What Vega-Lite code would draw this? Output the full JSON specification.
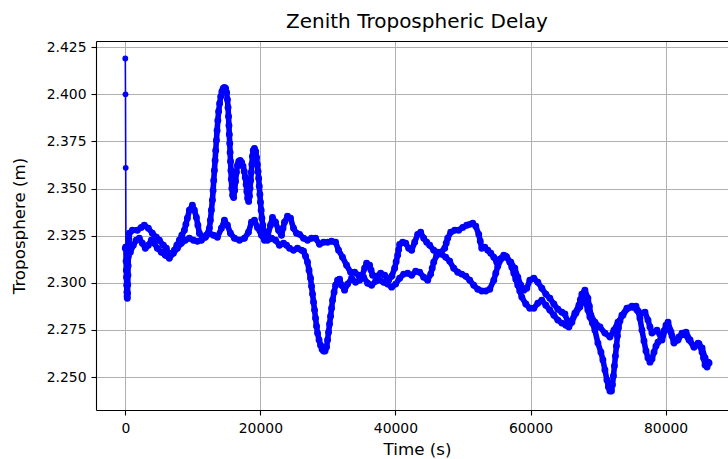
{
  "$schema": "https://vega.github.io/schema/vega-lite/v6.json",
  "usermeta": {"embedOptions": {"actions": false}},
  "autosize": {"type": "none"},
  "padding": {"left": 96, "top": 41, "right": 0, "bottom": 49},
  "width": 632,
  "height": 369,
  "background": "white",
  "title": {
    "text": "Zenith Tropospheric Delay",
    "font": "DejaVu Sans",
    "fontSize": 20,
    "fontWeight": "normal",
    "color": "#000000",
    "anchor": "middle",
    "baseline": "alphabetic",
    "offset": -8,
    "dx": 5
  },
  "config": {
    "view": {"stroke": null},
    "font": "DejaVu Sans",
    "axis": {
      "labelFont": "DejaVu Sans",
      "labelFontSize": 13.9,
      "labelColor": "#000000",
      "titleFont": "DejaVu Sans",
      "titleFontSize": 16.7,
      "titleFontWeight": "normal",
      "titleColor": "#000000",
      "domainColor": "#000000",
      "domainWidth": 1.1,
      "tickColor": "#000000",
      "tickWidth": 1.1,
      "tickSize": 5,
      "gridColor": "#b0b0b0",
      "gridWidth": 1,
      "gridOpacity": 1
    }
  },
  "datasets": {
    "rxA_convergence": [
      {"t":0,"ztd":2.419},{"t":30,"ztd":2.4},{"t":60,"ztd":2.361},{"t":90,"ztd":2.319}
    ],
    "rxA": [
      {"t":90,"ztd":2.319},{"t":120,"ztd":2.3115},{"t":150,"ztd":2.3067},{"t":180,"ztd":2.303},{"t":210,"ztd":2.2987},{"t":240,"ztd":2.295},{"t":270,"ztd":2.2929},{"t":300,"ztd":2.2918},{"t":330,"ztd":2.2945},{"t":360,"ztd":2.299},{"t":390,"ztd":2.304},{"t":420,"ztd":2.309},{"t":450,"ztd":2.314},{"t":480,"ztd":2.3185},{"t":540,"ztd":2.323},{"t":600,"ztd":2.3263},
      {"t":1050,"ztd":2.3279},{"t":1779,"ztd":2.3279},{"t":2372,"ztd":2.3294},{"t":2817,"ztd":2.3305},{"t":3410,"ztd":2.3289},{"t":4003,"ztd":2.3263},{"t":4596,"ztd":2.3242},{"t":5041,"ztd":2.3226},{"t":5634,"ztd":2.3199},{"t":6079,"ztd":2.3183},{"t":6523,"ztd":2.3146},{"t":7265,"ztd":2.3173},{"t":7635,"ztd":2.3199},{"t":8006,"ztd":2.3226},{"t":8377,"ztd":2.3252},{"t":8747,"ztd":2.3279},{"t":8970,"ztd":2.331},{"t":9192,"ztd":2.3342},{"t":9489,"ztd":2.3385},{"t":9933,"ztd":2.3411},{"t":10230,"ztd":2.3385},{"t":10526,"ztd":2.3347},{"t":10749,"ztd":2.3305},{"t":10971,"ztd":2.3263},{"t":11416,"ztd":2.3242},{"t":12009,"ztd":2.3252},
      {"t":12454,"ztd":2.3289},{"t":12602,"ztd":2.3332},{"t":12750,"ztd":2.3385},{"t":12899,"ztd":2.3438},{"t":13002,"ztd":2.349},{"t":13091,"ztd":2.3543},{"t":13195,"ztd":2.3596},{"t":13299,"ztd":2.3649},{"t":13388,"ztd":2.3702},{"t":13492,"ztd":2.3755},{"t":13595,"ztd":2.3808},{"t":13699,"ztd":2.3861},{"t":13818,"ztd":2.3909},{"t":13966,"ztd":2.3951},{"t":14129,"ztd":2.3988},{"t":14307,"ztd":2.4015},{"t":14500,"ztd":2.4031},{"t":14678,"ztd":2.4036},{"t":14856,"ztd":2.4031},{"t":15004,"ztd":2.401},{"t":15123,"ztd":2.3972},{"t":15212,"ztd":2.393},{"t":15286,"ztd":2.3882},{"t":15345,"ztd":2.3835},{"t":15404,"ztd":2.3787},{"t":15464,"ztd":2.3739},{"t":15523,"ztd":2.3692},{"t":15582,"ztd":2.3644},{"t":15641,"ztd":2.3596},{"t":15701,"ztd":2.3549},{"t":15775,"ztd":2.3501},{"t":15893,"ztd":2.3464},{"t":16041,"ztd":2.3453},{"t":16190,"ztd":2.349},{"t":16323,"ztd":2.3538},{"t":16457,"ztd":2.3586},{"t":16605,"ztd":2.3623},{"t":16798,"ztd":2.3644},{"t":17005,"ztd":2.3649},{"t":17228,"ztd":2.3639},{"t":17435,"ztd":2.3618},{"t":17613,"ztd":2.3591},{"t":17761,"ztd":2.3559},{"t":17895,"ztd":2.3522},{"t":17998,"ztd":2.3485},{"t":18117,"ztd":2.3448},{"t":18265,"ztd":2.3432},{"t":18384,"ztd":2.3459},{"t":18473,"ztd":2.3501},{"t":18562,"ztd":2.3543},{"t":18651,"ztd":2.3586},{"t":18740,"ztd":2.3628},{"t":18829,"ztd":2.3671},{"t":18948,"ztd":2.3702},{"t":19125,"ztd":2.3713},{"t":19303,"ztd":2.3697},{"t":19437,"ztd":2.3665},{"t":19555,"ztd":2.3628},{"t":19659,"ztd":2.3591},{"t":19748,"ztd":2.3554},{"t":19837,"ztd":2.3512},{"t":19926,"ztd":2.3469},{"t":20015,"ztd":2.3427},{"t":20119,"ztd":2.3385},{"t":20223,"ztd":2.3342},{"t":20356,"ztd":2.3305},{"t":20534,"ztd":2.3273},{"t":20756,"ztd":2.3247},{"t":21053,"ztd":2.3242},
      {"t":21498,"ztd":2.3305},{"t":21794,"ztd":2.3347},{"t":22239,"ztd":2.3321},{"t":22684,"ztd":2.3279},{"t":23129,"ztd":2.3252},{"t":23351,"ztd":2.3289},{"t":23573,"ztd":2.3321},{"t":24018,"ztd":2.3353},{"t":24463,"ztd":2.3342},{"t":24908,"ztd":2.3289},{"t":25352,"ztd":2.3263},{"t":25797,"ztd":2.3257},{"t":26390,"ztd":2.3236},{"t":26983,"ztd":2.3226},{"t":27576,"ztd":2.3236},{"t":28169,"ztd":2.3236},{"t":28762,"ztd":2.3204},{"t":29355,"ztd":2.3215},{"t":29949,"ztd":2.3215},{"t":30542,"ztd":2.322},{"t":31135,"ztd":2.3215},{"t":31579,"ztd":2.3173},{"t":32166,"ztd":2.3136},{"t":32765,"ztd":2.3093},{"t":33359,"ztd":2.3056},{"t":33952,"ztd":2.3056},{"t":34545,"ztd":2.304},{"t":34989,"ztd":2.303},{"t":35434,"ztd":2.3077},{"t":35731,"ztd":2.3104},{"t":36175,"ztd":2.3093},{"t":36398,"ztd":2.3067},{"t":36620,"ztd":2.304},{"t":37213,"ztd":2.3035},{"t":37806,"ztd":2.3051},{"t":38399,"ztd":2.304},{"t":38993,"ztd":2.3014},{"t":39437,"ztd":2.3035},{"t":39882,"ztd":2.3077},{"t":40104,"ztd":2.3112},{"t":40327,"ztd":2.3146},{"t":40475,"ztd":2.3175},{"t":40623,"ztd":2.3204},{"t":41068,"ztd":2.3215},{"t":41513,"ztd":2.321},{"t":41958,"ztd":2.3183},{"t":42402,"ztd":2.3173},{"t":42847,"ztd":2.3215},{"t":43292,"ztd":2.3257},{"t":43737,"ztd":2.3268},{"t":44181,"ztd":2.3236},{"t":44626,"ztd":2.3215},{"t":45071,"ztd":2.3199},{"t":45664,"ztd":2.3173},{"t":46257,"ztd":2.3162},{"t":46850,"ztd":2.3151},{"t":47443,"ztd":2.3136},{"t":48036,"ztd":2.3114},{"t":48629,"ztd":2.3077},{"t":49222,"ztd":2.3056},{"t":49815,"ztd":2.3046},{"t":50408,"ztd":2.3035},{"t":51001,"ztd":2.3014},{"t":51594,"ztd":2.2987},{"t":52188,"ztd":2.2966},{"t":52781,"ztd":2.2956},{"t":53374,"ztd":2.2956},{"t":53967,"ztd":2.2966},{"t":54560,"ztd":2.3014},{"t":54856,"ztd":2.3051},{"t":55153,"ztd":2.3088},{"t":55746,"ztd":2.313},{"t":56339,"ztd":2.3141},{"t":56932,"ztd":2.3109},{"t":57228,"ztd":2.3083},{"t":57525,"ztd":2.3051},{"t":57821,"ztd":2.3019},{"t":58118,"ztd":2.2987},{"t":58414,"ztd":2.2956},{"t":58711,"ztd":2.2924},{"t":59304,"ztd":2.2887},{"t":59897,"ztd":2.2865},{"t":60490,"ztd":2.2865},{"t":61083,"ztd":2.2892},{"t":61676,"ztd":2.2908},{"t":62269,"ztd":2.2881},{"t":62862,"ztd":2.2855},{"t":63455,"ztd":2.2828},{"t":64048,"ztd":2.2802},{"t":64641,"ztd":2.2786},{"t":65234,"ztd":2.2775},{"t":65679,"ztd":2.2765},{"t":66124,"ztd":2.2791},{"t":66717,"ztd":2.2839},{"t":67310,"ztd":2.2871},{"t":67755,"ztd":2.2913},{"t":68200,"ztd":2.2892},{"t":68496,"ztd":2.2855},{"t":68793,"ztd":2.2818},{"t":69163,"ztd":2.2786},{"t":69534,"ztd":2.2749},{"t":69979,"ztd":2.268},{"t":70424,"ztd":2.2632},{"t":70720,"ztd":2.259},{"t":71017,"ztd":2.2537},{"t":71313,"ztd":2.2484},{"t":71535,"ztd":2.2447},{"t":71758,"ztd":2.2426},{"t":71980,"ztd":2.2426},{"t":72128,"ztd":2.2458},{"t":72277,"ztd":2.2505},{"t":72425,"ztd":2.2558},{"t":72573,"ztd":2.2611},{"t":72722,"ztd":2.2664},{"t":72870,"ztd":2.2717},{"t":73018,"ztd":2.276},{"t":73240,"ztd":2.2797},{"t":73537,"ztd":2.2828},{"t":74278,"ztd":2.2865},{"t":75020,"ztd":2.2876},{"t":75612,"ztd":2.2876},{"t":75909,"ztd":2.285},{"t":76206,"ztd":2.2812},{"t":76502,"ztd":2.2749},{"t":76799,"ztd":2.2691},{"t":77095,"ztd":2.2638},{"t":77392,"ztd":2.2601},{"t":77688,"ztd":2.2579},{"t":77985,"ztd":2.2595},{"t":78281,"ztd":2.2632},{"t":78578,"ztd":2.2664},{"t":78874,"ztd":2.2685},{"t":79467,"ztd":2.2712},{"t":79764,"ztd":2.2744},{"t":80060,"ztd":2.2775},{"t":80653,"ztd":2.2749},{"t":80950,"ztd":2.2717},{"t":81246,"ztd":2.2685},{"t":81988,"ztd":2.2712},{"t":82729,"ztd":2.2733},{"t":83471,"ztd":2.2696},{"t":84212,"ztd":2.2659},{"t":84953,"ztd":2.2675},{"t":85398,"ztd":2.2632},{"t":85620,"ztd":2.2601},{"t":85843,"ztd":2.2564},{"t":86285,"ztd":2.2579}
    ],
    "rxB": [
      {"t":0,"ztd":2.3183},{"t":297,"ztd":2.3162},{"t":741,"ztd":2.3162},{"t":1186,"ztd":2.3199},{"t":1631,"ztd":2.3226},{"t":2076,"ztd":2.3236},{"t":2520,"ztd":2.321},{"t":2965,"ztd":2.3183},{"t":3410,"ztd":2.3199},{"t":3855,"ztd":2.3226},{"t":4300,"ztd":2.321},{"t":4744,"ztd":2.3183},{"t":5337,"ztd":2.3162},{"t":5930,"ztd":2.3146},{"t":6523,"ztd":2.313},{"t":7116,"ztd":2.3157},{"t":7710,"ztd":2.3183},{"t":8303,"ztd":2.321},{"t":8896,"ztd":2.3226},{"t":9489,"ztd":2.3236},{"t":10082,"ztd":2.3226},{"t":10675,"ztd":2.322},{"t":11268,"ztd":2.3226},{"t":11861,"ztd":2.3242},{"t":12454,"ztd":2.3263},{"t":13047,"ztd":2.3252},{"t":13640,"ztd":2.3242},{"t":14233,"ztd":2.3289},{"t":14678,"ztd":2.3332},{"t":15123,"ztd":2.3305},{"t":15567,"ztd":2.3263},{"t":16160,"ztd":2.3236},{"t":16902,"ztd":2.3226},{"t":17643,"ztd":2.3236},{"t":18236,"ztd":2.3268},{"t":18681,"ztd":2.3321},{"t":19125,"ztd":2.3332},{"t":19570,"ztd":2.3294},{"t":20163,"ztd":2.3252},{"t":20608,"ztd":2.3226},{"t":21053,"ztd":2.3226},{"t":21646,"ztd":2.3236},{"t":22239,"ztd":2.3226},{"t":22832,"ztd":2.3199},{"t":23425,"ztd":2.321},{"t":23870,"ztd":2.3199},{"t":24315,"ztd":2.3183},{"t":24908,"ztd":2.3173},{"t":25501,"ztd":2.3183},{"t":26094,"ztd":2.3173},{"t":26390,"ztd":2.3167},{"t":26687,"ztd":2.3141},{"t":26983,"ztd":2.3109},{"t":27206,"ztd":2.3067},{"t":27428,"ztd":2.3024},{"t":27576,"ztd":2.2982},{"t":27725,"ztd":2.294},{"t":27873,"ztd":2.2897},{"t":28021,"ztd":2.2855},{"t":28169,"ztd":2.2812},{"t":28318,"ztd":2.277},{"t":28466,"ztd":2.2733},{"t":28688,"ztd":2.2696},{"t":28911,"ztd":2.2669},{"t":29133,"ztd":2.2648},{"t":29355,"ztd":2.2638},{"t":29578,"ztd":2.2638},{"t":29800,"ztd":2.2659},{"t":29949,"ztd":2.2696},{"t":30097,"ztd":2.2738},{"t":30245,"ztd":2.2781},{"t":30393,"ztd":2.2823},{"t":30542,"ztd":2.2865},{"t":30690,"ztd":2.2908},{"t":30912,"ztd":2.295},{"t":31135,"ztd":2.2987},{"t":31431,"ztd":2.3014},{"t":31728,"ztd":2.3019},{"t":32024,"ztd":2.2987},{"t":32469,"ztd":2.2961},{"t":32914,"ztd":2.2993},{"t":33507,"ztd":2.3024},{"t":34100,"ztd":2.3003},{"t":34693,"ztd":2.3014},{"t":35286,"ztd":2.303},{"t":35879,"ztd":2.2998},{"t":36472,"ztd":2.2987},{"t":37065,"ztd":2.3008},{"t":37658,"ztd":2.3014},{"t":38251,"ztd":2.3003},{"t":38844,"ztd":2.2993},{"t":39437,"ztd":2.2977},{"t":40030,"ztd":2.2993},{"t":40623,"ztd":2.3024},{"t":41216,"ztd":2.3046},{"t":41809,"ztd":2.3051},{"t":42402,"ztd":2.304},{"t":42995,"ztd":2.3061},{"t":43588,"ztd":2.3056},{"t":44181,"ztd":2.303},{"t":44775,"ztd":2.3014},{"t":45219,"ztd":2.3046},{"t":45442,"ztd":2.3077},{"t":45664,"ztd":2.3109},{"t":46109,"ztd":2.3146},{"t":46702,"ztd":2.3162},{"t":47295,"ztd":2.3183},{"t":47517,"ztd":2.321},{"t":47740,"ztd":2.3236},{"t":48185,"ztd":2.3268},{"t":48778,"ztd":2.3279},{"t":49371,"ztd":2.3279},{"t":49964,"ztd":2.3294},{"t":50557,"ztd":2.3305},{"t":51001,"ztd":2.331},{"t":51446,"ztd":2.3316},{"t":51890,"ztd":2.33},{"t":52336,"ztd":2.3257},{"t":52558,"ztd":2.322},{"t":52781,"ztd":2.3183},{"t":53225,"ztd":2.3189},{"t":53670,"ztd":2.3173},{"t":54115,"ztd":2.3157},{"t":54560,"ztd":2.3136},{"t":55004,"ztd":2.3109},{"t":55449,"ztd":2.3125},{"t":56042,"ztd":2.3146},{"t":56487,"ztd":2.3136},{"t":57080,"ztd":2.3109},{"t":57673,"ztd":2.3077},{"t":58118,"ztd":2.303},{"t":58563,"ztd":2.2987},{"t":59007,"ztd":2.2961},{"t":59452,"ztd":2.2971},{"t":59897,"ztd":2.3014},{"t":60490,"ztd":2.3024},{"t":61083,"ztd":2.3003},{"t":61676,"ztd":2.2971},{"t":62269,"ztd":2.294},{"t":62862,"ztd":2.2918},{"t":63455,"ztd":2.2887},{"t":64048,"ztd":2.286},{"t":64641,"ztd":2.2844},{"t":65086,"ztd":2.2834},{"t":65531,"ztd":2.2791},{"t":65976,"ztd":2.2791},{"t":66569,"ztd":2.2839},{"t":67162,"ztd":2.2881},{"t":67384,"ztd":2.291},{"t":67607,"ztd":2.294},{"t":68051,"ztd":2.2961},{"t":68496,"ztd":2.2918},{"t":68718,"ztd":2.2876},{"t":68941,"ztd":2.2828},{"t":69534,"ztd":2.2791},{"t":70275,"ztd":2.2765},{"t":71017,"ztd":2.2733},{"t":71758,"ztd":2.2712},{"t":72351,"ztd":2.2749},{"t":72944,"ztd":2.2791},{"t":73685,"ztd":2.2828},{"t":74427,"ztd":2.2865},{"t":75168,"ztd":2.2871},{"t":75761,"ztd":2.2855},{"t":76354,"ztd":2.2839},{"t":76947,"ztd":2.2844},{"t":77392,"ztd":2.2802},{"t":77688,"ztd":2.2765},{"t":77985,"ztd":2.2733},{"t":78726,"ztd":2.2749},{"t":79467,"ztd":2.2696},{"t":79912,"ztd":2.2749},{"t":80357,"ztd":2.2791},{"t":80802,"ztd":2.2738},{"t":81246,"ztd":2.268},{"t":81840,"ztd":2.2696},{"t":82433,"ztd":2.2733},{"t":83026,"ztd":2.2738},{"t":83619,"ztd":2.2696},{"t":84212,"ztd":2.2659},{"t":84805,"ztd":2.268},{"t":85398,"ztd":2.2654},{"t":85843,"ztd":2.2601},{"t":86140,"ztd":2.2553},{"t":86433,"ztd":2.2574}
    ]
  },
  "layer": [
    {
      "data": {"name": "rxA"},
      "mark": {"type": "line", "color": "#0000ff", "strokeWidth": 5.6, "strokeJoin": "round", "strokeCap": "round", "point": {"filled": true, "size": 48, "color": "#0000ff", "opacity": 1}},
      "encoding": {
        "x": {
          "field": "t", "type": "quantitative",
          "scale": {"domain": [-4338, 89240], "nice": false, "zero": false},
          "axis": {
            "orient": "bottom", "title": "Time (s)", "values": [0, 20000, 40000, 60000, 80000], "format": "d",
            "grid": true, "labelPadding": 6, "labelFlush": false, "labelOverlap": false,
            "titleX": 321, "titleY": 44, "titleBaseline": "alphabetic", "titlePadding": 0
          }
        },
        "y": {
          "field": "ztd", "type": "quantitative",
          "scale": {"domain": [2.2325, 2.4283], "nice": false, "zero": false},
          "axis": {
            "title": "Troposphere (m)", "values": [2.25, 2.275, 2.3, 2.325, 2.35, 2.375, 2.4, 2.425], "format": ".3f",
            "grid": true, "labelPadding": 5, "labelFlush": false, "labelOverlap": false,
            "titleX": -68, "titleBaseline": "bottom"
          }
        }
      }
    },
    {
      "data": {"name": "rxB"},
      "mark": {"type": "line", "color": "#0000ff", "strokeWidth": 5.6, "strokeJoin": "round", "strokeCap": "round", "point": {"filled": true, "size": 48, "color": "#0000ff", "opacity": 1}},
      "encoding": {
        "x": {
          "field": "t", "type": "quantitative",
          "scale": {"domain": [-4338, 89240], "nice": false, "zero": false},
          "axis": {"orient": "top", "title": null, "labels": false, "ticks": false, "grid": false, "domain": true}
        },
        "y": {
          "field": "ztd", "type": "quantitative",
          "scale": {"domain": [2.2325, 2.4283], "nice": false, "zero": false},
          "axis": null
        }
      }
    },
    {
      "data": {"name": "rxA_convergence"},
      "mark": {"type": "line", "color": "#0000ff", "strokeWidth": 1.6, "point": {"filled": true, "size": 34, "color": "#0000ff", "opacity": 1}},
      "encoding": {
        "x": {"field": "t", "type": "quantitative", "scale": {"domain": [-4338, 89240], "nice": false, "zero": false}, "axis": null},
        "y": {"field": "ztd", "type": "quantitative", "scale": {"domain": [2.2325, 2.4283], "nice": false, "zero": false}, "axis": null}
      }
    }
  ],
  "resolve": {"axis": {"x": "independent", "y": "independent"}}
}
